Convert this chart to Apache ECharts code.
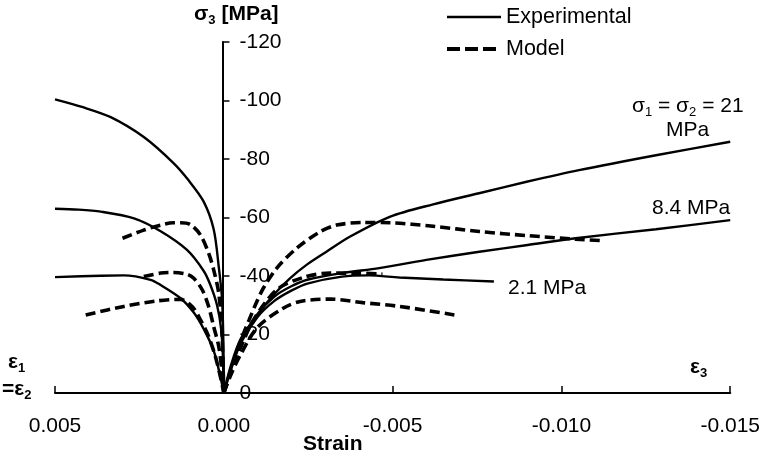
<!DOCTYPE html>
<html><head><meta charset="utf-8">
<script src="https://cdn.jsdelivr.net/npm/echarts/dist/echarts.min.js"></script>
<style>html,body{margin:0;padding:0;background:#fff}#c{width:763px;height:460px}</style>
</head><body><div id="c"></div>
<script>
// ---- Experimental, σ1 = σ2 = 21 MPa ----
const exp21LatStrain = [0.0050, 0.0042, 0.00335, 0.00237, 0.00149, 0.00105, 0.0006, 0.0003, 0.00015, 0.00005, 0.00001, 0];
const exp21LatStress = [-100.4, -97.8, -94.3, -87.5, -78.6, -72.8, -65.5, -56, -43.2, -31.8, -15, 0];
const exp21AxStrain = [0, -0.0002, -0.0005, -0.00108, -0.00147, -0.00196, -0.00245, -0.00304, -0.00373, -0.00493, -0.0062, -0.00756, -0.009, -0.01052, -0.0128, -0.015];
const exp21AxStress = [0, -9, -18.5, -28, -33.5, -39.2, -43.8, -48.3, -53.4, -60.3, -64.5, -68.3, -72.3, -76.2, -81.3, -85.9];
// ---- Experimental, 8.4 MPa ----
const exp8_4LatStrain = [0.0050, 0.0043, 0.00364, 0.00266, 0.00187, 0.00109, 0.0006, 0.0004, 0.0002, 0.00008, 0.00002, 0];
const exp8_4LatStress = [-63, -62.7, -62, -59.7, -55.3, -48.9, -41.8, -37, -30, -22, -11, 0];
const exp8_4AxStrain = [0, -0.0002, -0.0005, -0.001, -0.0015, -0.002, -0.0025, -0.0035, -0.0046, -0.006, -0.00757, -0.009, -0.01042, -0.0128, -0.015];
const exp8_4AxStress = [0, -8, -17.5, -27, -33, -36.5, -38.8, -41, -42.7, -45.5, -48.3, -50.6, -52.9, -56, -59.1];
// ---- Experimental, 2.1 MPa ----
const exp2_1LatStrain = [0.0050, 0.00364, 0.00296, 0.00217, 0.00187, 0.00128, 0.00089, 0.0006, 0.0003, 0.0001, 0];
const exp2_1LatStress = [-39.6, -40.1, -40.2, -38.7, -36.9, -32.4, -27.5, -22, -14.5, -5.5, 0];
const exp2_1AxStrain = [0, -0.0002, -0.0005, -0.001, -0.0015, -0.002, -0.0025, -0.0035, -0.0043, -0.0052, -0.0065, -0.008];
const exp2_1AxStress = [0, -7.5, -17, -26, -31.5, -35, -37.5, -39.8, -40.2, -39.5, -38.8, -38.1];
// ---- Model, 21 MPa ----
const mod21LatStrain = [0.0030, 0.00237, 0.00187, 0.0015, 0.00128, 0.00099, 0.00069, 0.00045, 0.0003, 0.00015, 0.00006, 0];
const mod21LatStress = [-52.9, -55.7, -57.4, -58.2, -58.2, -57.6, -54, -47.8, -42.1, -34.1, -22, 0];
const mod21AxStrain = [0, -0.0002, -0.00036, -0.00055, -0.00075, -0.00095, -0.00117, -0.00157, -0.00216, -0.00285, -0.00334, -0.00412, -0.00493, -0.0062, -0.00757, -0.009, -0.01042, -0.01125];
const mod21AxStress = [0, -7, -12.5, -19.3, -25, -30.5, -35.8, -42.7, -49.5, -55.1, -57.4, -58.3, -58.2, -57, -55.2, -53.8, -52.6, -52.1];
// ---- Model, 8.4 MPa ----
const mod8_4LatStrain = [0.00237, 0.00187, 0.0015, 0.00109, 0.00089, 0.00064, 0.00045, 0.0003, 0.00015, 0.00005, 0];
const mod8_4LatStress = [-39.8, -41, -41.2, -40.6, -39.2, -35.3, -29.6, -22.7, -15.9, -7, 0];
const mod8_4AxStrain = [0, -0.0002, -0.00039, -0.00088, -0.00157, -0.00235, -0.00314, -0.00403, -0.0047];
const mod8_4AxStress = [0, -7, -12.5, -25, -35.3, -39.5, -41, -41, -40.6];
// ---- Model, 2.1 MPa ----
const mod2_1LatStrain = [0.00409, 0.00296, 0.00197, 0.00128, 0.00094, 0.00069, 0.00045, 0.00025, 0.0001, 0];
const mod2_1LatStress = [-26.7, -29.6, -31.5, -32, -29.6, -25, -19.3, -12.5, -5.5, 0];
const mod2_1AxStrain = [0, -0.0002, -0.00049, -0.001, -0.00176, -0.00226, -0.00314, -0.00412, -0.00521, -0.00683];
const mod2_1AxStress = [0, -6, -13, -22.5, -29, -31.3, -32.1, -30.9, -29.6, -26.7];

const seriesNames = ['Experimental', 'Model'];
const xMin = -0.015, xMax = 0.005, xStep = 0.005;
const yMin = -120, yMax = 0, yStep = 20;

const FONT = "'Liberation Sans', Arial, sans-serif";
function zip(xs, ys) { return xs.map((x, i) => [x, ys[i]]); }
function mk(name, xs, ys) {
  const dashed = name === 'Model';
  return {
    type: 'line', name: name, data: zip(xs, ys), symbol: 'none', smooth: 0.3,
    silent: true, animation: false,
    lineStyle: { color: '#000', width: dashed ? 3.6 : 2.4, type: dashed ? [10, 5] : 'solid' },
    itemStyle: { color: '#000' }
  };
}
const series = [
  mk('Experimental', exp21LatStrain, exp21LatStress), mk('Experimental', exp21AxStrain, exp21AxStress),
  mk('Experimental', exp8_4LatStrain, exp8_4LatStress), mk('Experimental', exp8_4AxStrain, exp8_4AxStress),
  mk('Experimental', exp2_1LatStrain, exp2_1LatStress), mk('Experimental', exp2_1AxStrain, exp2_1AxStress),
  mk('Model', mod21LatStrain, mod21LatStress), mk('Model', mod21AxStrain, mod21AxStress),
  mk('Model', mod8_4LatStrain, mod8_4LatStress), mk('Model', mod8_4AxStrain, mod8_4AxStress),
  mk('Model', mod2_1LatStrain, mod2_1LatStress), mk('Model', mod2_1AxStrain, mod2_1AxStress)
];

const chart = echarts.init(document.getElementById('c'), null, { renderer: 'canvas' });
const GRID = { left: 55, right: 31, top: 42, bottom: 67 };
const boldRich = {
  b: { fontFamily: FONT, fontSize: 21, fontWeight: 'bold', color: '#000', lineHeight: 24 },
  bs: { fontFamily: FONT, fontSize: 13, fontWeight: 'bold', color: '#000', lineHeight: 13, verticalAlign: 'bottom' }
};
chart.setOption({
  animation: false,
  backgroundColor: '#fff',
  textStyle: { fontFamily: FONT },
  grid: Object.assign({ containLabel: false }, GRID),
  legend: {
    data: [
      { name: seriesNames[0], lineStyle: { width: 2.4, type: 'solid' } },
      { name: seriesNames[1], lineStyle: { width: 4, type: [13, 5] } }
    ],
    orient: 'vertical', left: 445, top: 6, padding: 0,
    itemWidth: 54, itemHeight: 14, itemGap: 10,
    itemStyle: { opacity: 0 },
    lineStyle: { width: 'inherit' },
    textStyle: { fontFamily: FONT, fontSize: 21.5, color: '#000' }
  },
  xAxis: {
    type: 'value', min: xMin, max: xMax, interval: xStep, inverse: true,
    splitLine: { show: false },
    axisLine: { onZero: true, lineStyle: { color: '#000', width: 2 } },
    axisTick: { inside: true, length: 7, lineStyle: { color: '#000', width: 1.5 } },
    axisLabel: { color: '#000', fontFamily: FONT, fontSize: 21, margin: 23, formatter: v => v.toFixed(3) }
  },
  yAxis: {
    type: 'value', min: yMin, max: yMax, interval: yStep, inverse: true,
    position: 'right',
    // place the axis on strain = 0 (x pixel of 0 within the grid)
    offset: -((763 - GRID.left - GRID.right) * (0 - xMin) / (xMax - xMin)),
    splitLine: { show: false },
    axisLine: { onZero: false, lineStyle: { color: '#000', width: 2 } },
    axisTick: { inside: false, length: 7, lineStyle: { color: '#000', width: 1.5 } },
    axisLabel: { color: '#000', fontFamily: FONT, fontSize: 21, margin: 17 }
  },
  graphic: [
    { type: 'text', left: 194, top: 4, style: { text: '{b|σ}{bs|3}{b| [MPa]}', rich: boldRich } },
    { type: 'text', left: 632, top: 96, style: { text: '{n|σ}{s|1}{n| = σ}{s|2}{n| = 21}', rich: {
      n: { fontFamily: FONT, fontSize: 21, color: '#000', lineHeight: 24 },
      s: { fontFamily: FONT, fontSize: 13, color: '#000', lineHeight: 13, verticalAlign: 'bottom' } } } },
    { type: 'text', left: 666, top: 120, style: { text: 'MPa', fill: '#000', font: '21px ' + FONT } },
    { type: 'text', left: 652, top: 198, style: { text: '8.4 MPa', fill: '#000', font: '21px ' + FONT } },
    { type: 'text', left: 508, top: 278, style: { text: '2.1 MPa', fill: '#000', font: '21px ' + FONT } },
    { type: 'text', left: 8, top: 352, style: { text: '{b|ε}{bs|1}', rich: boldRich } },
    { type: 'text', left: 2, top: 379, style: { text: '{b|=ε}{bs|2}', rich: boldRich } },
    { type: 'text', left: 690, top: 357, style: { text: '{b|ε}{bs|3}', rich: boldRich } },
    { type: 'text', left: 303, top: 434, style: { text: 'Strain', fill: '#000', font: 'bold 21px ' + FONT } }
  ],
  series: series
});
</script></body></html>
